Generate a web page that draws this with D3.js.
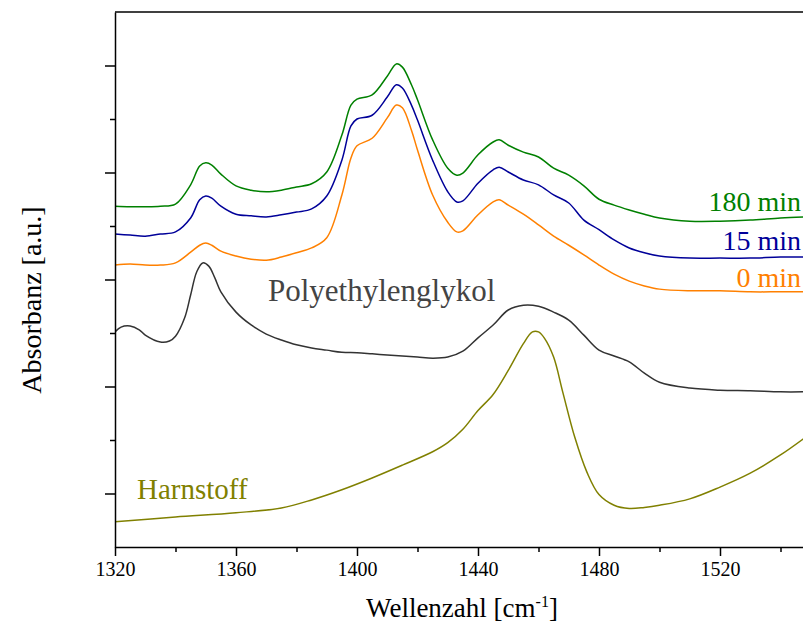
<!DOCTYPE html>
<html>
<head>
<meta charset="utf-8">
<script src="https://cdn.jsdelivr.net/npm/d3@7"></script>
<style>
  body { margin: 0; background: #fff; }
  text { font-family: "Liberation Serif", "Times New Roman", serif; }
</style>
</head>
<body>
<script>
// wavenumbers shared by the three time series
var wn = [1320,1325,1330,1335,1340,1345,1348,1350,1352,1355,1360,1365,1370,1375,1380,1385,1390,1395,1398,1400,
          1405,1410,1413,1415,1418,1420,1425,1430,1433,1435,1440,1445,1447,1450,1455,1460,1465,1470,1475,1480,
          1485,1490,1495,1500,1510,1520,1530,1540,1548];

var min180 = [6.37,6.36,6.36,6.37,6.41,6.77,7.12,7.18,7.14,6.97,6.75,6.67,6.64,6.67,6.73,6.79,7.01,7.70,8.26,8.37,
              8.45,8.80,9.03,8.97,8.64,8.36,7.61,7.08,6.95,6.99,7.33,7.57,7.61,7.51,7.38,7.29,7.08,6.95,6.75,6.50,
              6.39,6.30,6.22,6.15,6.09,6.09,6.11,6.15,6.17];
var min15 = [5.85,5.83,5.81,5.85,5.89,6.15,6.49,6.56,6.52,6.37,6.22,6.19,6.17,6.21,6.26,6.32,6.56,7.23,7.87,8.00,
             8.07,8.41,8.64,8.58,8.26,7.98,7.23,6.64,6.45,6.47,6.80,7.05,7.10,7.01,6.86,6.77,6.58,6.43,6.11,5.93,
             5.74,5.59,5.50,5.44,5.40,5.40,5.40,5.42,5.42];
var min0 = [5.27,5.29,5.27,5.27,5.31,5.51,5.64,5.68,5.64,5.53,5.44,5.38,5.36,5.42,5.50,5.59,5.78,6.58,7.27,7.50,
            7.64,8.02,8.26,8.21,7.79,7.42,6.58,6.07,5.89,5.91,6.21,6.45,6.49,6.39,6.22,6.02,5.81,5.64,5.46,5.27,
            5.10,4.97,4.88,4.82,4.79,4.79,4.77,4.77,4.77];

// Polyethylenglykol
var pegWn = [1320,1322,1325,1328,1330,1335,1338,1340,1343,1345,1347,1349,1351,1353,1355,1360,1365,1370,1375,1380,
             1385,1390,1395,1400,1405,1410,1415,1420,1425,1430,1435,1440,1445,1450,1455,1460,1465,1470,1475,1480,
             1485,1490,1495,1500,1510,1520,1530,1540,1548];
var peg = [4.02,4.11,4.13,4.06,3.96,3.83,3.85,3.94,4.28,4.71,5.14,5.31,5.25,5.03,4.77,4.39,4.15,3.98,3.87,3.78,
           3.72,3.68,3.64,3.63,3.61,3.59,3.57,3.55,3.53,3.55,3.66,3.91,4.15,4.43,4.52,4.50,4.39,4.24,3.96,3.68,
           3.57,3.46,3.25,3.08,2.97,2.93,2.92,2.90,2.90];

// Harnstoff
var ureaWn = [1320,1340,1360,1375,1385,1395,1405,1415,1425,1430,1435,1440,1445,1450,1455,1458,1460,1462,1465,1468,
              1472,1476,1480,1485,1490,1495,1500,1510,1520,1530,1540,1548];
var urea = [0.47,0.56,0.64,0.73,0.88,1.07,1.29,1.53,1.78,1.95,2.20,2.55,2.85,3.30,3.80,4.02,4.02,3.90,3.55,2.90,
            2.05,1.40,0.98,0.78,0.72,0.74,0.78,0.90,1.12,1.38,1.72,2.04];

var xTicks = [1320,1340,1360,1380,1400,1420,1440,1460,1480,1500,1520,1540];
var yTicks = [1,2,3,4,5,6,7,8,9];

var width = 803;
var height = 631;
var pLeft = 115, pRight = 803, pTop = 12, pBottom = 547;

var svg = d3.select("body")
  .append("svg")
  .attr("width", width)
  .attr("height", height);

var x = d3.scaleLinear()
  .domain([1320, 1320 + (pRight - pLeft) / 3.025])
  .range([pLeft, pRight]);

var y = d3.scaleLinear()
  .domain([0, 10])
  .range([pBottom, pTop]);

svg.append("clipPath").attr("id", "plot")
  .append("rect")
  .attr("x", pLeft).attr("y", pTop)
  .attr("width", pRight - pLeft).attr("height", pBottom - pTop);

var line = d3.line()
  .x(function(d) { return x(d[0]); })
  .y(function(d) { return y(d[1]); })
  .curve(d3.curveCatmullRom);

var series = [
  { xs: ureaWn, ys: urea, color: "#808000" },
  { xs: pegWn, ys: peg, color: "#333333" },
  { xs: wn, ys: min0, color: "#ff8000" },
  { xs: wn, ys: min15, color: "#000099" },
  { xs: wn, ys: min180, color: "#008000" }
];

var g = svg.append("g").attr("clip-path", "url(#plot)");
series.forEach(function(s) {
  var pts = s.xs.map(function(v, i) { return [v, s.ys[i]]; });
  g.append("path")
    .attr("d", line(pts))
    .attr("fill", "none")
    .attr("stroke", s.color)
    .attr("stroke-width", 1.5);
});

// axes
var xAxis = svg.append("g")
  .attr("transform", "translate(0," + pBottom + ")")
  .call(d3.axisBottom(x).tickValues(xTicks).tickSizeOuter(0)
    .tickFormat(function(d) { return d % 40 === 0 ? d : ""; }));
xAxis.selectAll(".tick line")
  .attr("y2", function(d) { return d % 40 === 0 ? 9 : 5; })
  .attr("stroke-width", 1.5);
xAxis.selectAll(".tick text")
  .attr("y", 15)
  .style("font-size", "20px")
  .style("font-family", "Liberation Serif");
xAxis.select(".domain").attr("stroke-width", 1.5);

var yAxis = svg.append("g")
  .attr("transform", "translate(" + pLeft + ",0)")
  .call(d3.axisLeft(y).tickValues(yTicks).tickSizeOuter(0).tickFormat(""));
yAxis.selectAll(".tick line")
  .attr("x2", function(d) { return d % 2 === 1 ? -10 : -5; })
  .attr("stroke-width", 1.5);
yAxis.select(".domain").attr("stroke-width", 1.5);

// top frame
svg.append("line")
  .attr("x1", pLeft).attr("x2", pRight)
  .attr("y1", pTop).attr("y2", pTop)
  .attr("stroke", "#000").attr("stroke-width", 1.5);

// axis titles
var xt = svg.append("text")
  .attr("x", 462).attr("y", 617)
  .attr("text-anchor", "middle")
  .style("font-size", "27px");
xt.append("tspan").text("Wellenzahl [cm");
xt.append("tspan").attr("dy", -10).style("font-size", "16px").text("-1");
xt.append("tspan").attr("dy", 10).text("]");

svg.append("text")
  .attr("transform", "translate(41,300) rotate(-90)")
  .attr("text-anchor", "middle")
  .style("font-size", "28px")
  .text("Absorbanz [a.u.]");

// curve labels
var labels = [
  { t: "180 min", x: 801, y: 211, c: "#008000", a: "end", s: 28 },
  { t: "15 min", x: 801, y: 250, c: "#000099", a: "end", s: 28 },
  { t: "0 min", x: 801, y: 287, c: "#ff8000", a: "end", s: 28 },
  { t: "Polyethylenglykol", x: 268, y: 301, c: "#444444", a: "start", s: 31 },
  { t: "Harnstoff", x: 137, y: 499, c: "#808000", a: "start", s: 29 }
];
svg.selectAll(".lbl")
  .data(labels)
  .enter()
  .append("text")
  .attr("class", "lbl")
  .attr("x", function(d) { return d.x; })
  .attr("y", function(d) { return d.y; })
  .attr("text-anchor", function(d) { return d.a; })
  .attr("fill", function(d) { return d.c; })
  .style("font-size", function(d) { return d.s + "px"; })
  .text(function(d) { return d.t; });
</script>
</body>
</html>
